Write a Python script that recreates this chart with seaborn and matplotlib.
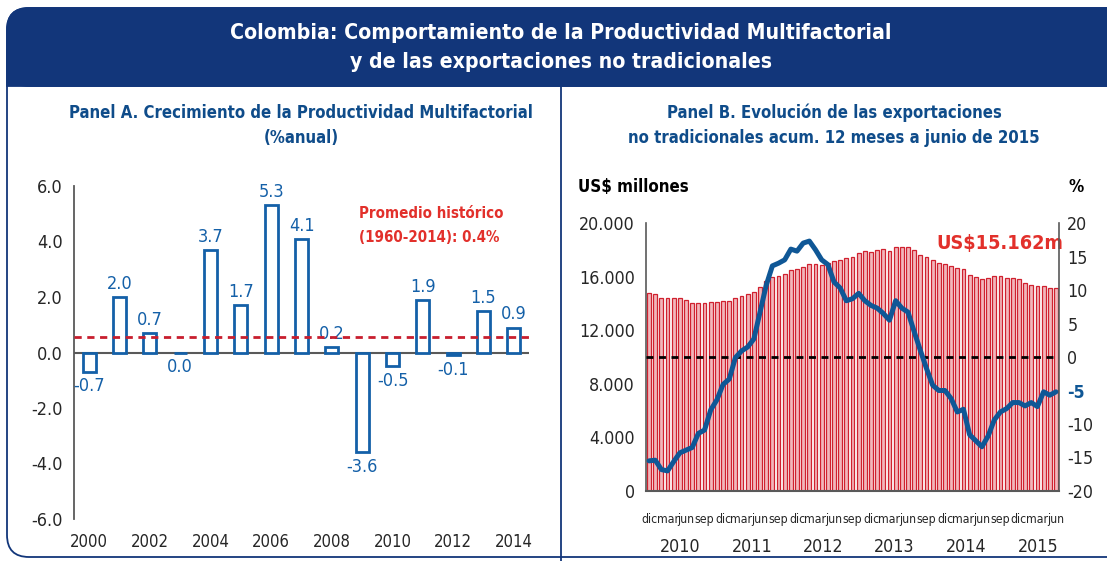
import numpy as np
import pandas as pd
import matplotlib
matplotlib.use("Agg")
import matplotlib.pyplot as plt
import matplotlib.transforms as mtransforms
from matplotlib import font_manager as fm
from matplotlib.patches import FancyBboxPatch, Rectangle
import seaborn as sns

# ---------------- DATA ----------------
# Panel A: crecimiento de la PTF (% anual)
years_a = [str(y) for y in range(2000, 2015)]
ptf_growth = [-0.7, 2.0, 0.7, 0.0, 3.7, 1.7, 5.3, 4.1, 0.2, -3.6, -0.5, 1.9, -0.1, 1.5, 0.9]
hist_avg = 0.55  # drawn level of the historical average line
yticks_a = [-6.0, -4.0, -2.0, 0.0, 2.0, 4.0, 6.0]

# Panel B: exportaciones no tradicionales acum. 12 meses (US$ millones), dic-2009 .. jun-2015
exports_musd = [14750, 14680, 14430, 14430, 14430, 14430, 14250, 14000, 14030, 14030,
                14100, 14100, 14180, 14200, 14380, 14550, 14680, 14880, 15250, 15650,
                16000, 16040, 16170, 16490, 16570, 16720, 16920, 16920, 16870, 17040,
                17160, 17240, 17360, 17460, 17740, 17910, 17860, 17980, 18060, 17910,
                18230, 18230, 18180, 17980, 17600, 17440, 17240, 16990, 16940, 16790,
                16610, 16540, 16120, 15950, 15820, 15920, 16020, 16020, 15920, 15870,
                15820, 15550, 15400, 15300, 15300, 15150, 15162]
# variacion anual (%), eje derecho
exports_growth = [-15.5, -15.4, -16.8, -17.0, -15.6, -14.3, -13.9, -13.5, -11.4, -10.9,
                  -7.9, -6.4, -4.1, -3.3, -0.1, 0.9, 1.5, 2.7, 6.7, 10.7,
                  13.6, 14.0, 14.5, 16.1, 15.8, 17.0, 17.3, 16.0, 14.5, 13.8,
                  11.2, 10.3, 8.4, 8.7, 9.5, 8.4, 7.7, 7.3, 6.5, 5.5,
                  8.4, 7.3, 6.7, 3.8, 1.0, -1.7, -4.2, -5.0, -5.0, -6.2,
                  -8.2, -7.8, -11.6, -12.5, -13.4, -11.8, -9.4, -8.2, -7.7, -6.8,
                  -6.8, -7.3, -6.8, -7.4, -5.2, -5.7, -5.2]
months_b = pd.date_range("2009-12-01", periods=len(exports_musd), freq="MS")
month_abbr = {12: "dic", 3: "mar", 6: "jun", 9: "sep"}
year_labels_b = ["2010", "2011", "2012", "2013", "2014", "2015"]
yticks_b_left = [0, 4000, 8000, 12000, 16000, 20000]
yticks_b_right = [-20, -15, -10, -5, 0, 5, 10, 15, 20]

# ---------------- STYLE ----------------
sns.set_theme(style="white")

# pick a condensed / narrow face if one is installed
fonts = fm.fontManager.ttflist
chosen = None
for key in ("Liberation Sans Narrow", "DejaVu Sans Condensed", "Roboto Condensed",
            "Open Sans Condensed", "Noto Sans Condensed"):
    for f in fonts:
        if key.replace(" ", "") in f.fname.replace("-", "").replace("_", "").replace(" ", "") \
                or key == f.name:
            chosen = f
            break
    if chosen:
        break
if chosen is not None:
    plt.rcParams["font.family"] = [chosen.name, "DejaVu Sans"]
    plt.rcParams["font.stretch"] = chosen.stretch
    k = 1.0
else:
    plt.rcParams["font.family"] = ["Liberation Sans", "DejaVu Sans"]
    k = 0.9
plt.rcParams["axes.unicode_minus"] = False

W, H = 1107, 561
navy = "#12367A"
title_blue = "#0F4C8A"
bar_blue = "#1460A8"
red_txt = "#E2302B"
dash_red = "#C81E2E"
grey_axis = "#595959"
bar_edge = "#D0212F"
bar_fill = "#F2B6BB"
line_blue = "#0F5796"
txt = "#262626"

fig = plt.figure(figsize=(W / 100, H / 100), dpi=100)

# background decoration (frame + banner) in pixel coordinates
bg = fig.add_axes([0, 0, 1, 1], zorder=0)
bg.set_xlim(0, W)
bg.set_ylim(H, 0)
bg.axis("off")
bg.add_patch(FancyBboxPatch((7, 8), 1160, 549, boxstyle="round,pad=0,rounding_size=22",
                            fc="white", ec=navy, lw=1.3))
bg.add_patch(FancyBboxPatch((7, 8), 1160, 78, boxstyle="round,pad=0,rounding_size=22",
                            fc=navy, ec=navy, lw=1.3))
bg.add_patch(Rectangle((7, 50), 1160, 36, fc=navy, ec=navy, lw=1.3))
bg.plot([561, 561], [86, H], color=navy, lw=1.3)
bg.text(561, 33, "Colombia: Comportamiento de la Productividad Multifactorial",
        color="white", fontsize=15.2 * k, fontweight="bold", ha="center", va="center")
bg.text(561, 62, "y de las exportaciones no tradicionales",
        color="white", fontsize=15.2 * k, fontweight="bold", ha="center", va="center")

# panel titles
bg.text(301, 113, "Panel A. Crecimiento de la Productividad Multifactorial",
        color=title_blue, fontsize=12 * k, fontweight="bold", ha="center", va="center")
bg.text(301, 138, "(%anual)", color=title_blue, fontsize=12 * k, fontweight="bold",
        ha="center", va="center")
bg.text(834, 113, "Panel B. Evolución de las exportaciones",
        color=title_blue, fontsize=12 * k, fontweight="bold", ha="center", va="center")
bg.text(834, 138, "no tradicionales acum. 12 meses a junio de 2015",
        color=title_blue, fontsize=12 * k, fontweight="bold", ha="center", va="center")

# ---------------- PANEL A ----------------
axA = fig.add_axes([74 / W, 1 - 519 / H, 455 / W, 333 / H], zorder=2)
axA.patch.set_alpha(0)
dfA = pd.DataFrame({"year": years_a, "value": ptf_growth})
sns.barplot(data=dfA, x="year", y="value", ax=axA, color="white", saturation=1,
            edgecolor=bar_blue, linewidth=2.0, width=0.43, zorder=3)
axA.set_ylim(-6, 6)
axA.set_xlim(-0.5, len(years_a) - 0.5)
axA.set_yticks(yticks_a)
axA.set_yticklabels([f"{v:.1f}" for v in yticks_a])
axA.set_xticks(range(len(years_a)))
axA.set_xticklabels([y if i % 2 == 0 else "" for i, y in enumerate(years_a)])
axA.set_xlabel("")
axA.set_ylabel("")
for s in ["top", "right", "bottom"]:
    axA.spines[s].set_visible(False)
axA.spines["left"].set_color(grey_axis)
axA.spines["left"].set_linewidth(1.3)
axA.axhline(0, color=grey_axis, lw=1.5, zorder=2)
axA.axhline(hist_avg, color=dash_red, lw=2.0, ls=(0, (2.6, 2.0)), zorder=4)
axA.tick_params(axis="y", length=0, labelsize=13 * k, colors=txt, pad=8)
axA.tick_params(axis="x", length=0, labelsize=12 * k, colors=txt, pad=10)
for i, v in enumerate(ptf_growth):
    if v > 0:
        axA.annotate(f"{v:.1f}", (i, v), xytext=(0, 3), textcoords="offset points",
                     ha="center", va="bottom", color=bar_blue, fontsize=13 * k)
    else:
        axA.annotate(f"{v:.1f}", (i, v), xytext=(0, -4), textcoords="offset points",
                     ha="center", va="top", color=bar_blue, fontsize=13 * k)
axA.text(8.88, 5.0, "Promedio histórico", color=red_txt, fontsize=10.8 * k,
         fontweight="bold", ha="left", va="center")
axA.text(8.88, 4.15, "(1960-2014): 0.4%", color=red_txt, fontsize=10.8 * k,
         fontweight="bold", ha="left", va="center")

# ---------------- PANEL B ----------------
axB = fig.add_axes([646 / W, 1 - 491 / H, 413 / W, 268 / H], zorder=2)
axB.patch.set_alpha(0)
dfB = pd.DataFrame({"mes": [d.strftime("%Y-%m") for d in months_b],
                    "exportaciones": exports_musd})
sns.barplot(data=dfB, x="mes", y="exportaciones", ax=axB, color=bar_fill, saturation=1,
            edgecolor=bar_edge, linewidth=0.9, width=0.62, zorder=2)
axB.set_ylim(0, 20000)
axB.set_yticks(yticks_b_left)
axB.set_yticklabels([f"{v:,.0f}".replace(",", ".") for v in yticks_b_left])
tick_pos = [i for i, d in enumerate(months_b) if d.month in month_abbr]
axB.set_xticks(tick_pos)
axB.set_xticklabels([month_abbr[months_b[i].month] for i in tick_pos])
axB.set_xlabel("")
axB.set_ylabel("")
for s in ["top", "right"]:
    axB.spines[s].set_visible(False)
axB.spines["left"].set_color(grey_axis)
axB.spines["bottom"].set_color(grey_axis)
axB.spines["left"].set_linewidth(1.2)
axB.spines["bottom"].set_linewidth(1.5)
axB.tick_params(axis="y", length=0, labelsize=12.8 * k, colors=txt, pad=8)
axB.tick_params(axis="x", length=0, labelsize=8.8 * k, colors=txt, pad=16)

axB2 = axB.twinx()
axB2.set_zorder(3)
axB2.axhline(0, color="black", lw=2.0, ls=(0, (2.5, 2.0)), zorder=3)
sns.lineplot(x=np.arange(len(exports_growth)), y=exports_growth, ax=axB2,
             color=line_blue, lw=3.6, zorder=4)
axB2.set_ylim(-20, 20)
axB2.set_xlim(-0.5, len(exports_musd) - 0.5)
axB2.set_yticks(yticks_b_right)
axB2.set_yticklabels([str(v) for v in yticks_b_right])
for s in ["top", "left", "bottom"]:
    axB2.spines[s].set_visible(False)
axB2.spines["right"].set_color(grey_axis)
axB2.spines["right"].set_linewidth(1.2)
axB2.tick_params(axis="y", length=0, labelsize=12.8 * k, colors=txt, pad=6)
for lab, v in zip(axB2.get_yticklabels(), yticks_b_right):
    if v == -5:
        lab.set_color(line_blue)
        lab.set_fontweight("bold")
axB.set_xlim(-0.5, len(exports_musd) - 0.5)

trans = mtransforms.blended_transform_factory(axB.transData, axB.transAxes)
year_pos = [5.0, 16.7, 28.2, 39.8, 51.4, 63.2]
for xp, lab in zip(year_pos, year_labels_b):
    axB.text(xp, -0.209, lab, transform=trans, ha="center", va="center",
             fontsize=12.8 * k, color=txt)

bg.text(578, 187, "US$ millones", color="black", fontsize=12.2 * k, fontweight="bold",
        ha="left", va="center")
bg.text(1076, 187, "%", color="black", fontsize=12.2 * k, fontweight="bold",
        ha="center", va="center")
bg.text(1000, 243, "US$15.162m", color=red_txt, fontsize=14.2 * k, fontweight="bold",
        ha="center", va="center")

fig.savefig("out.png", dpi=100)
